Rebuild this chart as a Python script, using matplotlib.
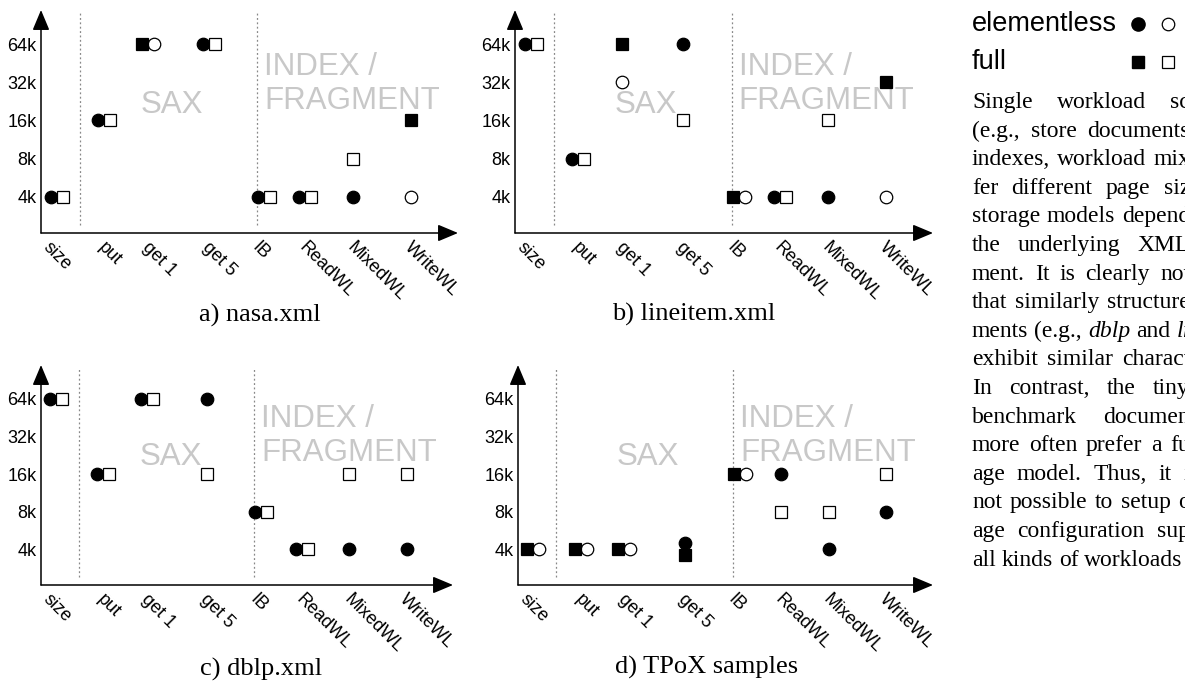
import matplotlib
matplotlib.use('Agg')
import matplotlib.pyplot as plt
from matplotlib.transforms import ScaledTranslation, blended_transform_factory

plt.rcParams['font.family'] = ['Liberation Sans', 'DejaVu Sans']

W, H = 1185, 684

categories = ['size', 'put', 'get 1', 'get 5', 'IB', 'ReadWL', 'MixedWL', 'WriteWL']
y_ticks = [4, 8, 16, 32, 64]
y_tick_labels = ['4k', '8k', '16k', '32k', '64k']

# best page size (KB) per workload for the two storage models
# winner: 'e' = elementless is better, 'f' = full is better, 'ef' = tie
nasa_elementless = [4, 16, 64, 64, 4, 4, 4, 4]
nasa_full = [4, 16, 64, 64, 4, 4, 8, 16]
nasa_winner = ['e', 'e', 'f', 'e', 'e', 'e', 'e', 'f']

lineitem_elementless = [64, 8, 32, 64, 4, 4, 4, 4]
lineitem_full = [64, 8, 64, 16, 4, 4, 16, 32]
lineitem_winner = ['e', 'e', 'f', 'e', 'f', 'e', 'e', 'f']

dblp_elementless = [64, 16, 64, 64, 8, 4, 4, 4]
dblp_full = [64, 16, 64, 16, 8, 4, 16, 16]
dblp_winner = ['e', 'e', 'e', 'e', 'e', 'e', 'e', 'e']

tpox_elementless = [4, 4, 4, 4, 16, 16, 4, 8]
tpox_full = [4, 4, 4, 4, 16, 8, 8, 16]
tpox_winner = ['f', 'f', 'f', 'ef', 'f', 'e', 'e', 'e']

captions = ['a) nasa.xml', 'b) lineitem.xml', 'c) dblp.xml', 'd) TPoX samples']

para_lines = [
    'Single workload sc',
    '(e.g., store documents',
    'indexes, workload mix',
    'fer different page siz',
    'storage models depend',
    'the underlying XML',
    'ment. It is clearly not',
    'that similarly structure',
    'ments (e.g., dblp and li',
    'exhibit similar charact',
    'In contrast, the tiny',
    'benchmark documen',
    'more often prefer a fu',
    'age model. Thus, it i',
    'not possible to setup o',
    'age configuration sup',
    'all kinds of workloads',
]
italic_words = {'dblp', 'li'}

# layout (pixels)
cat_px = [15.5, 63, 107, 168, 223, 264, 312, 370]
label_px = [9, 64, 108, 168, 218, 265, 313, 370]
sep_px = [38.5, 216]
ref_len = 417.0
# origin x, x-axis y, arrow tip x, arrow tip y
boxes = [(41, 233, 458, 10), (515, 233, 933, 10), (41, 585, 453, 365), (518, 585, 933, 365)]
caption_xy = [(260, 315), (694, 314), (261, 669), (707, 667)]
GRAY = '#c8c8c8'
SERIF = 'Liberation Serif'

fig = plt.figure(figsize=(W / 100, H / 100), dpi=100)
over = fig.add_axes([0, 0, 1, 1])
over.set_xlim(0, W)
over.set_ylim(H, 0)
over.axis('off')


def shift(dx, dy):
    return ScaledTranslation(dx / 100, dy / 100, fig.dpi_scale_trans)


def draw_panel(box, elementless, full, winner):
    x0, yb, xt, yt = box
    w, h = xt - x0, yb - yt
    ax = fig.add_axes([x0 / W, 1 - yb / H, w / W, h / H])
    ax.patch.set_alpha(0)
    for s in ax.spines.values():
        s.set_visible(False)
    sc = w / ref_len
    pos = [p * sc for p in cat_px]
    ax.set_xlim(0, w)
    ax.set_yscale('log', base=2)
    ax.set_ylim(2 ** (2 - 36 / 38.0), 2 ** (6 + 34 / 38.0))
    ax.set_yticks(y_ticks, y_tick_labels)
    ax.minorticks_off()
    ax.set_xticks([])
    ax.tick_params(axis='y', length=0, pad=3, labelsize=13)

    # axes with arrow heads
    arrow = dict(arrowstyle='-|>,head_length=0.62,head_width=0.26', color='k', lw=1.1,
                 shrinkA=0, shrinkB=0, mutation_scale=20)
    ax.annotate('', xy=(1, 0), xytext=(0, 0), xycoords='axes fraction', arrowprops=arrow,
                annotation_clip=False)
    ax.annotate('', xy=(0, 1), xytext=(0, 0), xycoords='axes fraction', arrowprops=arrow,
                annotation_clip=False)

    for sx in sep_px:
        ax.axvline(sx * sc, ymin=8 / h, ymax=(h - 2) / h, color='#888888', lw=0.9,
                   ls=(0, (1.5, 2)))

    bt = blended_transform_factory(ax.transData, ax.transAxes)
    ax.text(131 * sc, 128 / h, 'SAX', transform=bt, ha='center', va='center',
            fontsize=22.5, color=GRAY, zorder=1)
    ax.text(223 * sc, 149 / h, 'INDEX /\nFRAGMENT', transform=bt, ha='left', va='center',
            fontsize=22.5, color=GRAY, linespacing=1.2, zorder=1)

    for lp, lab in zip(label_px, categories):
        ax.text(lp * sc + 2, -6 / h, lab, transform=bt, rotation=-45, rotation_mode='anchor',
                ha='left', va='top', fontsize=13)

    for p, ev, fv, win in zip(pos, elementless, full, winner):
        e_fill = 'k' if 'e' in win else 'white'
        f_fill = 'k' if 'f' in win else 'white'
        if ev != fv:
            e_off, f_off = (0, 0), (0, 0)
        elif win == 'ef':
            e_off, f_off = (0, 6), (0, -6)
        elif win == 'e':
            e_off, f_off = (-6, 0), (6, 0)
        else:
            e_off, f_off = (6, 0), (-6, 0)
        ax.plot([p], [ev], marker='o', ms=9, mfc=e_fill, mec='k', mew=0.9, ls='none',
                transform=ax.transData + shift(*e_off), clip_on=False, zorder=3)
        ax.plot([p], [fv], marker='s', ms=8.2, mfc=f_fill, mec='k', mew=0.9, ls='none',
                transform=ax.transData + shift(*f_off), clip_on=False, zorder=3)


draw_panel(boxes[0], nasa_elementless, nasa_full, nasa_winner)
draw_panel(boxes[1], lineitem_elementless, lineitem_full, lineitem_winner)
draw_panel(boxes[2], dblp_elementless, dblp_full, dblp_winner)
draw_panel(boxes[3], tpox_elementless, tpox_full, tpox_winner)

for (cx, cy), cap in zip(caption_xy, captions):
    over.text(cx, cy, cap, ha='center', va='center', family=SERIF, fontsize=19)

# legend on the right
over.text(972, 24, 'elementless', ha='left', va='center', fontsize=19.5)
over.text(972, 62, 'full', ha='left', va='center', fontsize=19.5)
over.plot([1138], [24], marker='o', ms=9.5, mfc='k', mec='k', ls='none')
over.plot([1168], [24], marker='o', ms=9, mfc='white', mec='k', mew=0.9, ls='none')
over.plot([1138], [62], marker='s', ms=8.6, mfc='k', mec='k', ls='none')
over.plot([1168], [62], marker='s', ms=8.4, mfc='white', mec='k', mew=0.9, ls='none')

# justified paragraph, running on past the right edge as in the reference
renderer = fig.canvas.get_renderer()
x_left, x_right = 972, 1190
fs = 17
space = 0.25 * fs * 100 / 72
for i, line in enumerate(para_lines):
    yb = 108 + i * 28.6
    words = line.split(' ')
    texts = []
    for wd in words:
        style = 'italic' if wd in italic_words else 'normal'
        texts.append(over.text(0, yb, wd, ha='left', va='baseline', family=SERIF,
                               fontsize=fs, style=style))
    widths = [t.get_window_extent(renderer).width for t in texts]
    gap = space
    if i < len(para_lines) - 1 and len(words) > 1:
        gap = max(space, (x_right - x_left - sum(widths)) / (len(words) - 1))
    x = x_left
    for t, wdt in zip(texts, widths):
        t.set_x(x)
        x += wdt + gap

fig.savefig('out.png', dpi=100)
